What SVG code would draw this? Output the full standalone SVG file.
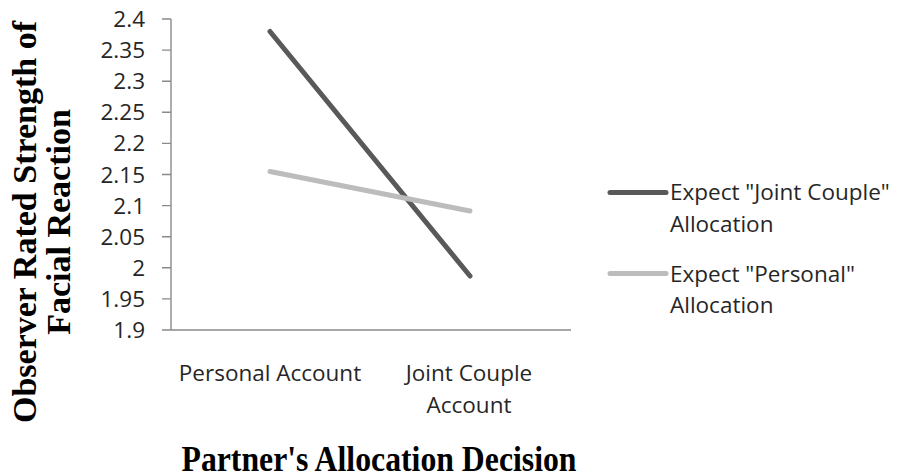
<svg xmlns="http://www.w3.org/2000/svg" width="903" height="476" viewBox="0 0 903 476">
  <style>
    .tick { font-family: "Open Sans", "Noto Sans", sans-serif; font-size: 22.5px; fill: #262626; }
    .axis { stroke: #8a8a8a; stroke-width: 1.4; fill: none; }
    .title { font-family: "Liberation Serif", "Times New Roman", serif; font-weight: bold; fill: #000; }
    .s1 { stroke: #595959; stroke-width: 5; stroke-linecap: round; fill: none; }
    .s2 { stroke: #bcbcbc; stroke-width: 5; stroke-linecap: round; fill: none; }
  </style>
  <rect width="903" height="476" fill="#ffffff"/>

  <g id="y-axis">
    <path class="axis" d="M171 19 V330 M162 19 H171 M162 50.1 H171 M162 81.2 H171 M162 112.3 H171 M162 143.4 H171 M162 174.5 H171 M162 205.6 H171 M162 236.7 H171 M162 267.8 H171 M162 298.9 H171"/>
    <g class="tick" text-anchor="end">
      <text x="145" y="27">2.4</text>
      <text x="145" y="58.1">2.35</text>
      <text x="145" y="89.2">2.3</text>
      <text x="145" y="120.3">2.25</text>
      <text x="145" y="151.4">2.2</text>
      <text x="145" y="182.5">2.15</text>
      <text x="145" y="213.6">2.1</text>
      <text x="145" y="244.7">2.05</text>
      <text x="145" y="275.8">2</text>
      <text x="145" y="306.9">1.95</text>
      <text x="145" y="338">1.9</text>
    </g>
  </g>

  <g id="x-axis">
    <path class="axis" d="M162 330 H571"/>
    <g class="tick" text-anchor="middle">
      <text x="270" y="381">Personal Account</text>
      <text x="469" y="381">Joint Couple</text>
      <text x="469" y="413">Account</text>
    </g>
  </g>

  <g id="series">
    <line id="series-joint" class="s1" x1="270" y1="31.5" x2="470" y2="276"/>
    <line id="series-personal" class="s2" x1="270" y1="171.5" x2="470" y2="211"/>
  </g>

  <g id="legend">
    <g id="legend-joint">
      <line class="s1" x1="610" y1="192.5" x2="666" y2="192.5" stroke-linecap="butt"/>
      <text class="tick" x="670" y="200">Expect "Joint Couple"</text>
      <text class="tick" x="670" y="232">Allocation</text>
    </g>
    <g id="legend-personal">
      <line class="s2" x1="610" y1="273.5" x2="666" y2="273.5" stroke-linecap="butt"/>
      <text class="tick" x="670" y="281.5">Expect "Personal"</text>
      <text class="tick" x="670" y="313">Allocation</text>
    </g>
  </g>

  <g id="y-title">
    <text class="title" font-size="34" text-anchor="middle" transform="translate(36 222) rotate(-90)">Observer Rated Strength of</text>
    <text class="title" font-size="34" text-anchor="middle" transform="translate(70 222) rotate(-90)">Facial Reaction</text>
  </g>

  <g id="x-title">
    <text class="title" font-size="35" text-anchor="middle" x="379" y="471" textLength="395" lengthAdjust="spacingAndGlyphs">Partner's Allocation Decision</text>
  </g>
</svg>
